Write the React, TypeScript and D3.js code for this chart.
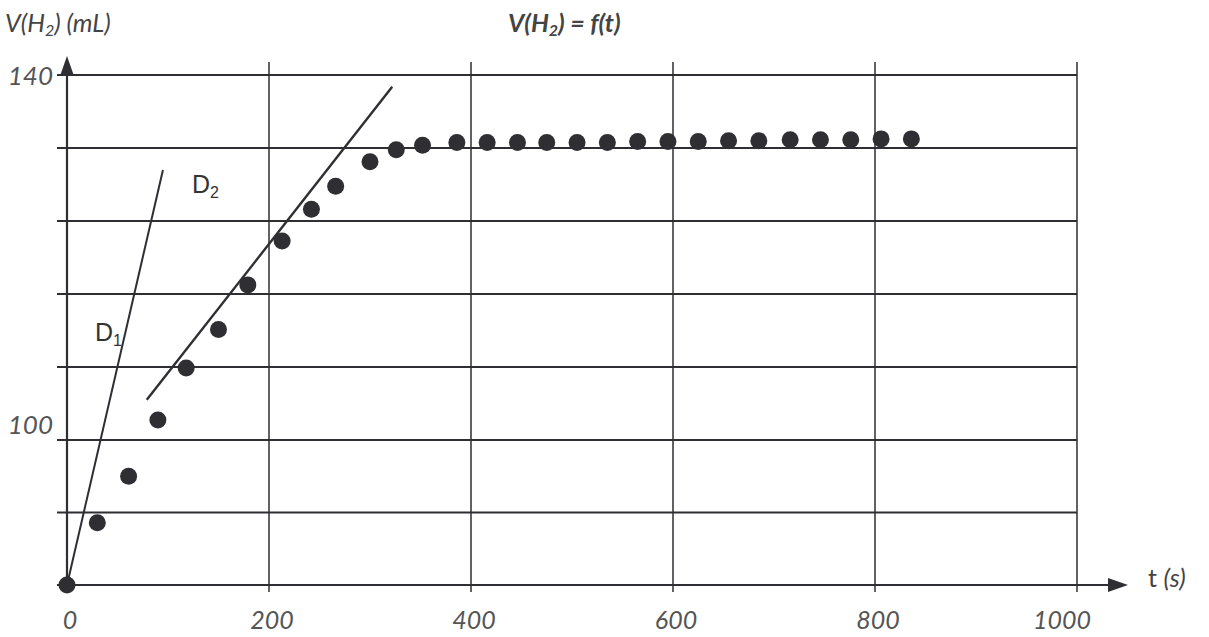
import React from "react";
import * as d3 from "d3";

const times = [0, 30, 61, 90, 118, 150, 179, 213, 242, 266, 300, 326, 352, 386, 416, 446, 475, 505, 535, 565, 595, 625, 655, 685, 716, 746, 776, 806, 836];
const volumes = [0, 43, 75, 102.2, 107.9, 112.1, 117, 121.8, 125.3, 127.8, 130.5, 131.8, 132.3, 132.6, 132.6, 132.6, 132.6, 132.6, 132.6, 132.7, 132.7, 132.7, 132.8, 132.8, 132.9, 132.9, 132.9, 133, 133];
const lineD1 = [[0, 0], [95, 129.6]];
const lineD2 = [[79, 104.4], [322, 138.7]];
const yGrid = [0, 50, 100, 108, 116, 124, 132, 140];
const yTickLabels = [100, 140];
const yTickOffsets = [-6, 10];
const xGrid = [200, 400, 600, 800, 1000];
const xTickLabels = [0, 200, 400, 600, 800, 1000];

export default function App() {
  const W = 1209, H = 637;
  const x = d3.scaleLinear().domain([0, 1000]).range([67, 1077]);
  const y = d3.scaleLinear().domain([0, 100, 140]).range([585, 440, 75]);
  const ink = "#2e2e33";
  const line = d3.line<number[]>().x(d => x(d[0])).y(d => y(d[1]));
  const labelFont = "Lato, 'Open Sans', sans-serif";
  return (
    <svg width={W} height={H} style={{ position: "absolute", left: 0, top: 0, background: "#fff" }}>
      {yGrid.map(v => (
        <line key={"h" + v} x1={x(0) - 10} x2={x(1000)} y1={y(v)} y2={y(v)} stroke={ink} strokeWidth={1.8} />
      ))}
      {xGrid.map(v => (
        <line key={"v" + v} x1={x(v)} x2={x(v)} y1={62} y2={y(0) + 7} stroke={ink} strokeWidth={1.5} />
      ))}
      {/* axes */}
      <line x1={x(0)} x2={x(0)} y1={y(0)} y2={66} stroke={ink} strokeWidth={2.2} />
      <path d={`M${x(0) - 7},${76} L${x(0)},${56} L${x(0) + 7},${76} Z`} fill={ink} />
      <line x1={x(0)} x2={1112} y1={y(0)} y2={y(0)} stroke={ink} strokeWidth={2.2} />
      <path d={`M${1108},${y(0) - 7} L${1128},${y(0)} L${1108},${y(0) + 7} Z`} fill={ink} />
      {/* fit lines */}
      <path d={line(lineD1) || ""} stroke={ink} strokeWidth={2} fill="none" />
      <path d={line(lineD2) || ""} stroke={ink} strokeWidth={2.4} fill="none" />
      {/* points */}
      {times.map((t, i) => (
        <circle key={"p" + i} cx={x(t)} cy={y(volumes[i])} r={8.5} fill={ink} />
      ))}
      {/* tick labels */}
      {yTickLabels.map((v, i) => (
        <text key={"yl" + v} x={53} y={y(v) + yTickOffsets[i]} textAnchor="end" fontFamily={labelFont} fontStyle="italic" fontSize={26} fill="#555">{v}</text>
      ))}
      {xTickLabels.map(v => (
        <text key={"xl" + v} x={v === 1000 ? x(v) - 15 : x(v) + 3} y={629} textAnchor="middle" fontFamily={labelFont} fontStyle="italic" fontSize={25} fill="#555">{v}</text>
      ))}
      {/* titles */}
      <text x={5} y={32} fontFamily={labelFont} fontStyle="italic" fontSize={25} fill="#444">
        V(H<tspan fontSize={16} dy={4}>2</tspan><tspan dy={-4}>) (mL)</tspan>
      </text>
      <text x={508} y={32} fontFamily={labelFont} fontStyle="italic" fontWeight="bold" fontSize={25} fill="#444">
        V(H<tspan fontSize={16} dy={4}>2</tspan><tspan dy={-4}>) = f(t)</tspan>
      </text>
      <text x={1148} y={587} fontFamily={labelFont} fontSize={25} fill="#444">
        t <tspan fontStyle="italic">(s)</tspan>
      </text>
      <text x={192} y={193} fontFamily="'Liberation Sans', Arial, sans-serif" fontSize={25} fill="#333">
        D<tspan fontSize={16} dy={5}>2</tspan>
      </text>
      <text x={95} y={341} fontFamily="'Liberation Sans', Arial, sans-serif" fontSize={25} fill="#333">
        D<tspan fontSize={16} dy={5}>1</tspan>
      </text>
    </svg>
  );
}
